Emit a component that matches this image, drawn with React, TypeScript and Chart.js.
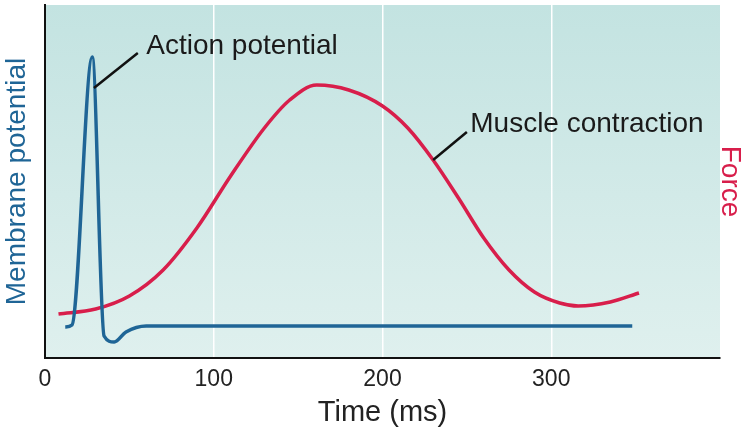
import React, { useEffect, useRef } from "react";
import { Chart, registerables } from "chart.js";
Chart.register(...registerables);

const xTicks = [0, 100, 200, 300];
const apTime = [12, 16, 28, 35, 41, 48, 60, 348];
const apValue = [31, 33, 301, 22, 16, 26, 32, 32];
const mcTime = [8, 30, 50, 70, 90, 110, 130, 145, 161, 180, 200, 215, 230, 245, 260, 275, 290, 305, 316, 335, 352];
const mcValue = [44, 49, 62, 88, 130, 182, 230, 258, 273, 268, 252, 230, 198, 160, 120, 88, 66, 55, 52, 56, 65];
const labels = [
  { text: "Action potential", from: [29, 270], to: [55, 305], at: [60, 312] },
  { text: "Muscle contraction", from: [230, 198], to: [250, 226], at: [252, 234] },
];

const BLUE = "#1f6596";
const RED = "#d81e4b";
const FONT = "Arial, 'Liberation Sans'";

export default function App() {
  const ref = useRef<HTMLCanvasElement>(null);
  useEffect(() => {
    const bg = {
      id: "bg",
      beforeDraw(c: any) {
        const { ctx, chartArea: a } = c;
        const g = ctx.createLinearGradient(0, a.top, 0, a.bottom);
        g.addColorStop(0, "#c3e3e1");
        g.addColorStop(1, "#dff0ee");
        ctx.save();
        ctx.fillStyle = g;
        ctx.fillRect(a.left, a.top, a.right - a.left, a.bottom - a.top);
        ctx.restore();
      },
      afterDatasetsDraw(c: any) {
        const { ctx, scales } = c;
        const x = scales.x, y = scales.y;
        ctx.save();
        ctx.strokeStyle = "#111";
        ctx.lineWidth = 2.5;
        ctx.fillStyle = "#1a1a1a";
        ctx.font = "28px " + FONT;
        ctx.textBaseline = "middle";
        for (const l of labels) {
          ctx.beginPath();
          ctx.moveTo(x.getPixelForValue(l.from[0]), y.getPixelForValue(l.from[1]));
          ctx.lineTo(x.getPixelForValue(l.to[0]), y.getPixelForValue(l.to[1]));
          ctx.stroke();
          ctx.fillText(l.text, x.getPixelForValue(l.at[0]), y.getPixelForValue(l.at[1]));
        }
        ctx.restore();
      },
    };
    const chart = new Chart(ref.current!, {
      type: "line",
      data: {
        datasets: [
          {
            data: apTime.map((t, i) => ({ x: t, y: apValue[i] })),
            borderColor: BLUE, borderWidth: 3.5, pointRadius: 0, cubicInterpolationMode: "monotone",
          },
          {
            data: mcTime.map((t, i) => ({ x: t, y: mcValue[i] })),
            borderColor: RED, borderWidth: 3.5, pointRadius: 0, cubicInterpolationMode: "monotone",
          },
        ],
      },
      options: {
        animation: false,
        responsive: false,
        plugins: { legend: { display: false }, tooltip: { enabled: false } },
        layout: { padding: { top: 5, right: 0, bottom: 0, left: 0 } },
        scales: {
          x: {
            type: "linear", min: 0, max: 400,
            afterFit: (s: any) => { s.height = 72; },
            border: { color: "#111", width: 2 },
            grid: {
              color: (c: any) => (c.tick && [100, 200, 300].includes(c.tick.value) ? "#ffffff" : "rgba(0,0,0,0)"),
              lineWidth: 1.5, drawTicks: false,
            },
            ticks: {
              stepSize: 100, color: "#222", font: { size: 23, family: FONT }, padding: 8,
              callback: (v: any) => (xTicks.includes(v) ? String(v) : ""),
            },
            title: { display: true, text: "Time (ms)", color: "#222", font: { size: 29, family: FONT }, padding: { top: 0, bottom: 0 } },
          },
          y: {
            min: 0, max: 353, position: "left",
            afterFit: (s: any) => { s.width = 45; },
            border: { color: "#111", width: 2 },
            grid: { display: false },
            ticks: { display: false },
            title: { display: true, text: "Membrane potential", color: BLUE, font: { size: 28, family: FONT }, padding: { top: 0, bottom: 0 } },
          },
          y2: {
            min: 0, max: 353, position: "right",
            afterFit: (s: any) => { s.width = 27; },
            border: { display: false },
            grid: { display: false },
            ticks: { display: false },
            title: { display: true, text: "Force", color: RED, font: { size: 28, family: FONT }, padding: { top: 0, bottom: 0 } },
          },
        },
      } as any,
      plugins: [bg],
    });
    return () => chart.destroy();
  }, []);
  return (
    <div style={{ position: "fixed", left: 0, top: 0, width: 747, height: 430, background: "#fff" }}>
      <canvas ref={ref} width={747} height={430} />
    </div>
  );
}
